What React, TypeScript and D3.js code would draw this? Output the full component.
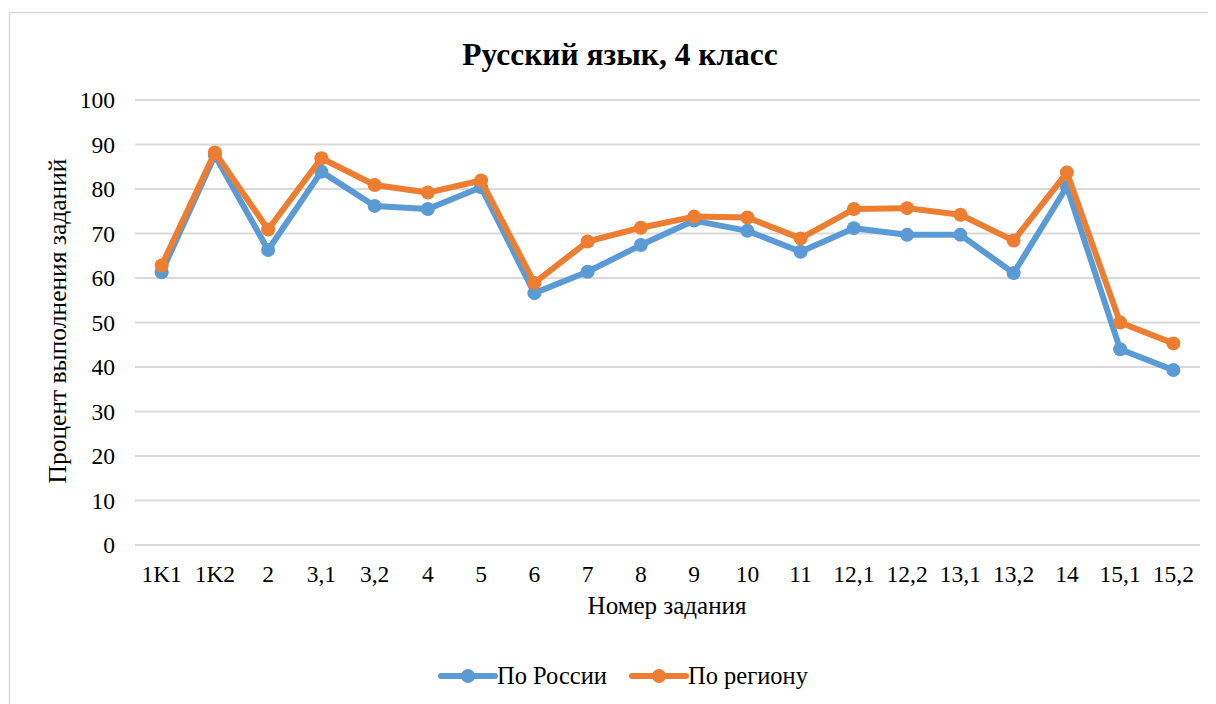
import React from "react";
import * as d3 from "d3";

const categories = ["1K1", "1K2", "2", "3,1", "3,2", "4", "5", "6", "7", "8", "9", "10", "11", "12,1", "12,2", "13,1", "13,2", "14", "15,1", "15,2"];
const russia = [61.3, 87.6, 66.3, 83.9, 76.2, 75.5, 80.4, 56.6, 61.4, 67.4, 72.9, 70.6, 65.9, 71.2, 69.7, 69.7, 61.1, 80.5, 44.0, 39.3];
const region = [62.8, 88.2, 70.9, 86.9, 80.9, 79.2, 81.9, 58.9, 68.2, 71.3, 73.8, 73.6, 68.9, 75.5, 75.7, 74.2, 68.4, 83.7, 50.0, 45.3];
const yTicks = [0, 10, 20, 30, 40, 50, 60, 70, 80, 90, 100];
const seriesNames = ["По России", "По региону"];
const colors = ["#5b9bd5", "#ed7d31"];

const W = 1216;
const H = 704;
const left = 135;
const right = 1200;
const top = 100;
const bottom = 545;
const ts = { fontFamily: "'Liberation Serif', Tinos, serif" };

export default function App() {
  const x = d3.scaleBand<string>().domain(categories).range([left, right]);
  const y = d3.scaleLinear().domain([0, 100]).range([bottom, top]);
  const cx = (c: string) => (x(c) as number) + x.bandwidth() / 2;
  const line = d3
    .line<number>()
    .x((_, i) => cx(categories[i]))
    .y((d) => y(d));
  const series = [russia, region];

  return (
    <svg width={W - 8} height={H - 8}>
      <g transform="translate(-8,-8)">
        <rect x={9.5} y={12.5} width={W + 20} height={H + 20} fill="none" stroke="#d9d9d9" strokeWidth={1.5} />
        <text x={620} y={65} textAnchor="middle" fontSize={31.5} fontWeight="bold" style={ts}>
          Русский язык, 4 класс
        </text>
        {yTicks.map((t) => (
          <g key={t}>
            <line x1={left} x2={right} y1={y(t)} y2={y(t)} stroke="#d9d9d9" strokeWidth={2} />
            <text x={115} y={y(t) + 8} textAnchor="end" fontSize={23.5} style={ts}>
              {t}
            </text>
          </g>
        ))}
        {categories.map((c) => (
          <text key={c} x={cx(c)} y={582} textAnchor="middle" fontSize={23.5} style={ts}>
            {c}
          </text>
        ))}
        <text x={667} y={614} textAnchor="middle" fontSize={25} style={ts}>
          Номер задания
        </text>
        <text
          transform={`translate(66, ${(155 + 487) / 2}) rotate(-90)`}
          textAnchor="middle"
          fontSize={25.5}
          style={ts}
        >
          Процент выполнения заданий
        </text>
        {series.map((s, si) => (
          <g key={si}>
            <path d={line(s) as string} fill="none" stroke={colors[si]} strokeWidth={6} strokeLinejoin="round" strokeLinecap="round" />
            {s.map((v, i) => (
              <circle key={i} cx={cx(categories[i])} cy={y(v)} r={7} fill={colors[si]} />
            ))}
          </g>
        ))}
        {seriesNames.map((n, i) => {
          const lx = i === 0 ? 441 : 632;
          return (
            <g key={n}>
              <line x1={lx} x2={lx + 54} y1={676} y2={676} stroke={colors[i]} strokeWidth={6} strokeLinecap="round" />
              <circle cx={lx + 27} cy={676} r={7} fill={colors[i]} />
              <text x={lx + 56} y={684} fontSize={24.5} style={ts}>
                {n}
              </text>
            </g>
          );
        })}
      </g>
    </svg>
  );
}
